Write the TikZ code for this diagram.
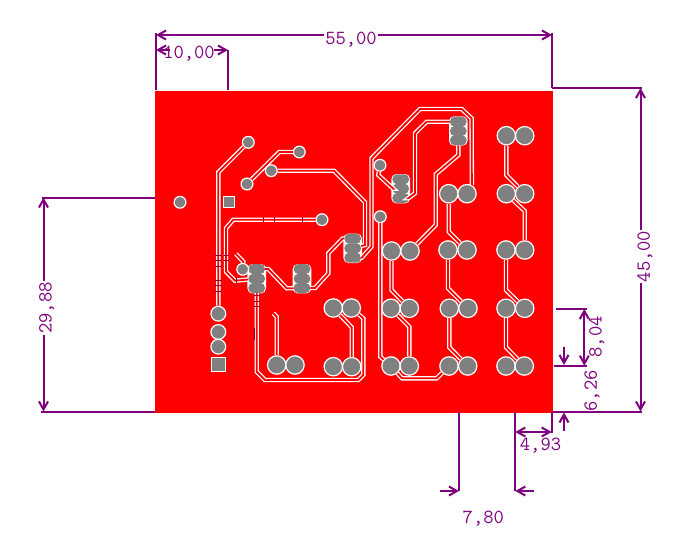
\documentclass[tikz,border=0pt]{standalone}
\usetikzlibrary{arrows.meta}
\definecolor{dimpurple}{HTML}{7F007F}
\definecolor{padgray}{HTML}{808080}
\definecolor{hairline}{HTML}{8A0030}
\tikzset{
  padbig/.style={circle,fill=padgray,draw=white,line width=1.2pt,minimum size=18.4pt,inner sep=0pt},
  padmid/.style={circle,fill=padgray,draw=white,line width=1.2pt,minimum size=14.8pt,inner sep=0pt},
  padvia/.style={circle,fill=padgray,draw=white,line width=1.2pt,minimum size=11.8pt,inner sep=0pt},
  padsq/.style={rectangle,fill=padgray,draw=white,line width=1.2pt,inner sep=0pt},
  padoval/.style={rectangle,rounded corners=4.6pt,fill=padgray,minimum width=16.5pt,minimum height=10pt,inner sep=0pt},
  padring/.style={white,rounded corners=5pt},
  trace/.style={draw=white,line width=1.3pt,double=red,double distance=1.8pt},
  hair/.style={hairline,line width=0.6pt},
  dimline/.style={dimpurple,line width=2pt,{Straight Barb[length=8pt,width=9pt]}-{Straight Barb[length=8pt,width=9pt]}},
  dimarrow/.style={dimpurple,line width=2pt,-{Straight Barb[length=8pt,width=9pt]}},
  extline/.style={dimpurple,line width=2pt},
  dimtext/.style={font=\fontsize{20}{20}\selectfont\ttfamily,text=dimpurple,inner sep=1pt}
}
\begin{document}
\begin{tikzpicture}[x=1pt,y=-1pt]
      \useasboundingbox (0,0) rectangle (683,541);
      \fill[red] (155,91) rectangle (553,413);
      \foreach \x/\y in {256.7/278.7,302/278.7,352.7/248.3,458.3/131,400.7/188.7}
        \fill[padring] (\x-9.3,\y-14.7) rectangle (\x+9.3,\y+14.7);
      \draw
        (248.3,142.3) node[padvia] (0){}
        (299.3,152) node[padvia] (1){}
        (271.3,170.7) node[padvia] (2){}
        (247,184) node[padvia] (3){}
        (180,202.3) node[padvia] (4){}
        (229.3,202.3) node[padsq,minimum size=11pt] (5){}
        (322,219.7) node[padvia] (6){}
        (218.3,313.7) node[padmid] (7){}
        (218.3,332) node[padmid] (8){}
        (218.3,346.7) node[padmid] (9){}
        (218.3,364.7) node[padsq,minimum size=14pt] (10){}
        (242.7,269.3) node[padvia] (11){}
        (380,165.3) node[padvia] (27){}
        (380.3,216.7) node[padvia] (28){};
      \draw
        (256.7,269) node[padoval] (12){}
        (256.7,278.7) node[padoval] (13){}
        (256.7,288) node[padoval] (14){}
        (302,269) node[padoval] (15){}
        (302,278.7) node[padoval] (16){}
        (302,288) node[padoval] (17){}
        (352.7,238.7) node[padoval] (18){}
        (352.7,248.3) node[padoval] (19){}
        (352.7,257.7) node[padoval] (20){}
        (458.3,121.7) node[padoval] (21){}
        (458.3,131) node[padoval] (22){}
        (458.3,140.3) node[padoval] (23){}
        (400.7,179.3) node[padoval] (24){}
        (400.7,188.7) node[padoval] (25){}
        (400.7,198) node[padoval] (26){};
      \draw
        (333.3,308) node[padbig] (29){}
        (351.3,308) node[padbig] (30){}
        (276.7,365) node[padbig] (31){}
        (295,365) node[padbig] (32){}
        (333.3,366.7) node[padbig] (33){}
        (351.7,366.7) node[padbig] (34){}
        (506.3,135.7) node[padbig] (35){}
        (524.7,135.7) node[padbig] (36){}
        (448.7,193.7) node[padbig] (37){}
        (467,193.7) node[padbig] (38){}
        (506.3,193.7) node[padbig] (39){}
        (524.7,193.7) node[padbig] (40){}
        (391.5,251) node[padbig] (41){}
        (410,251) node[padbig] (42){}
        (448,250) node[padbig] (43){}
        (467,250) node[padbig] (44){}
        (506,250) node[padbig] (45){}
        (524.7,250) node[padbig] (46){}
        (391,308.3) node[padbig] (47){}
        (409.3,308.3) node[padbig] (48){}
        (449.3,308.3) node[padbig] (49){}
        (468,308.3) node[padbig] (50){}
        (506,308.3) node[padbig] (51){}
        (524.7,308.3) node[padbig] (52){}
        (391,366) node[padbig] (53){}
        (409.3,366) node[padbig] (54){}
        (449,366) node[padbig] (55){}
        (467.7,366) node[padbig] (56){}
        (506,366) node[padbig] (57){}
        (524.3,366) node[padbig] (58){};
      \coordinate (t5) at (236,254);
      \coordinate (t9) at (273.3,313.3);
      \draw[trace] (0) -- (218.3,172.3) -- (7);
      \draw[trace] (1) -- (279.3,152) -- (3);
      \draw[trace] (2) -- (334,170.7) -- (365,202.3) -- (365,245) -- (19);
      \draw[trace] (6) -- (233.3,219.7) -- (226,228.3) -- (226,271.7) -- (235,280.7) -- (13);
      \draw[trace] (t5) -- (243.3,261.7) -- (11);
      \draw[trace] (12) -- (268.3,269) -- (286.7,288.3) -- (17);
      \draw[trace] (17) -- (315,288) -- (328.3,273.3) -- (328.3,253.3) -- (342.7,238.5) -- (18);
      \draw[trace] (14) -- (256.7,371.7) -- (265,380) -- (358.3,380) -- (363.3,375) -- (363.3,318.3) -- (30);
      \draw[trace] (t9) -- (276.7,316.7) -- (31);
      \draw[trace] (29) -- (351.7,327.3) -- (34);
      \draw[trace] (23) -- (458.3,155) -- (435.7,174.3) -- (435.7,225) -- (42);
      \draw[trace] (38.60) -- (471.6,118.3) -- (461.7,109) -- (420,109) -- (371.5,158.3) -- (371.5,246.7) -- (361.7,257.7) -- (20);
      \draw[trace] (21) -- (426.7,121.7) -- (415,133.3) -- (415,193.3) -- (408.3,198.3) -- (26);
      \draw[trace] (27) -- (378.3,175) -- (393.3,188.7) -- (25);
      \draw[trace] (28) -- (380.3,356.7) -- (53);
      \draw[trace] (41) -- (391.5,290) -- (48);
      \draw[trace] (47) -- (409.3,326.7) -- (54);
      \draw[trace] (53) -- (402,378.3) -- (436.7,378.3) -- (55);
      \draw[trace] (43) -- (448,288.3) -- (50);
      \draw[trace] (49) -- (449.3,347.3) -- (56);
      \draw[trace] (45) -- (506,290) -- (52);
      \draw[trace] (51) -- (506,347.3) -- (58);
      \draw[trace] (37) -- (448.7,231.7) -- (44);
      \draw[trace] (35) -- (506.3,175) -- (40);
      \draw[trace] (39) -- (524.7,211) -- (46);
      \draw[white,line width=3pt] (11) -- (12);
      \foreach \y in {255,260,266,280.7,285,291.7}
        \draw[hair] (215,\y) -- (221.7,\y);
      \foreach \y in {255,260}
        \draw[hair] (223.5,\y) -- (228.5,\y);
      \foreach \y in {295,301.7,306.7}
        \draw[hair] (254,\y) -- (259.5,\y);
      \foreach \x in {263.3,274,302.7}
        \draw[hair] (\x,217.3) -- (\x,222.2);
      \draw[hair] (254.3,328) -- (254.3,340);
      \draw[hair] (236.7,278) -- (236.7,283);
      \coordinate (l55) at (156,35);
      \coordinate (r55) at (552,35);
      \coordinate (bl55) at (156,90);
      \coordinate (br55) at (552,88);
      \coordinate (tl10) at (156,50);
      \coordinate (il10) at (170,50);
      \coordinate (tr10) at (228,50);
      \coordinate (ir10) at (214,50);
      \coordinate (br10) at (228,90);
      \coordinate (t45) at (640.5,88);
      \coordinate (b45) at (640.5,411.5);
      \coordinate (et45) at (642,88);
      \coordinate (eb45) at (642,411.5);
      \coordinate (sb45) at (553,411.5);
      \coordinate (t29) at (43.5,197.5);
      \coordinate (b29) at (43.5,411.5);
      \coordinate (et29) at (155,197.5);
      \coordinate (eb29) at (155,411.5);
      \coordinate (st29) at (42,197.5);
      \coordinate (sb29) at (41,411.5);
      \coordinate (t80) at (584.3,309);
      \coordinate (b80) at (584.3,365.7);
      \coordinate (lt80) at (556,309);
      \coordinate (rt80) at (586.5,309);
      \coordinate (lb80) at (553.5,365.7);
      \coordinate (rb80) at (586.5,365.7);
      \coordinate (ot62) at (564,346.7);
      \coordinate (it62) at (564,365);
      \coordinate (ob62) at (564,430.7);
      \coordinate (ib62) at (564,412.5);
      \coordinate (l49) at (515.3,432);
      \coordinate (r49) at (551.7,432);
      \coordinate (tl49) at (515.3,412);
      \coordinate (bl49) at (515.3,491);
      \coordinate (tr49) at (551.7,412);
      \coordinate (br49) at (551.7,433);
      \coordinate (ol78) at (440,491);
      \coordinate (il78) at (459,491);
      \coordinate (or78) at (534,491);
      \coordinate (tl78) at (459,412);
      \draw[extline] (bl55) -- (156,33);
      \draw[extline] (br55) -- (552,33);
      \draw[extline] (br10) -- (tr10);
      \draw[extline] (br55) -- (et45);
      \draw[extline] (sb45) -- (eb45);
      \draw[extline] (st29) -- (et29);
      \draw[extline] (sb29) -- (eb29);
      \draw[extline] (lt80) -- (rt80);
      \draw[extline] (lb80) -- (rb80);
      \draw[extline] (tl49) -- (bl49);
      \draw[extline] (tr49) -- (br49);
      \draw[extline] (tl78) -- (il78);
      \draw[dimline] (l55) -- (r55);
      \draw[dimarrow] (il10) -- (tl10);
      \draw[dimarrow] (ir10) -- (tr10);
      \draw[dimline] (t45) -- (b45);
      \draw[dimline] (t29) -- (b29);
      \draw[dimline] (t80) -- (b80);
      \draw[dimarrow] (ot62) -- (it62);
      \draw[dimarrow] (ob62) -- (ib62);
      \draw[dimline] (l49) -- (r49);
      \draw[dimarrow] (ol78) -- (il78);
      \draw[dimarrow] (or78) -- (bl49);
      \node[dimtext,fill=white] (t55) at (351,40) {55,00};
      \node[dimtext] (t10) at (189,53.5) {10,00};
      \node[dimtext,fill=white,rotate=90] (t4500) at (645,256.5) {45,00};
      \node[dimtext,fill=white,rotate=90] (t2988) at (46.7,308) {29,88};
      \node[dimtext,rotate=90] (t804) at (596.7,336.7) {8,04};
      \node[dimtext,rotate=90] (t626) at (592,390.7) {6,26};
      \node[dimtext] (t493) at (540.5,446) {4,93};
      \node[dimtext] (t780) at (483.3,519) {7,80};
    \end{tikzpicture}
\end{document}
